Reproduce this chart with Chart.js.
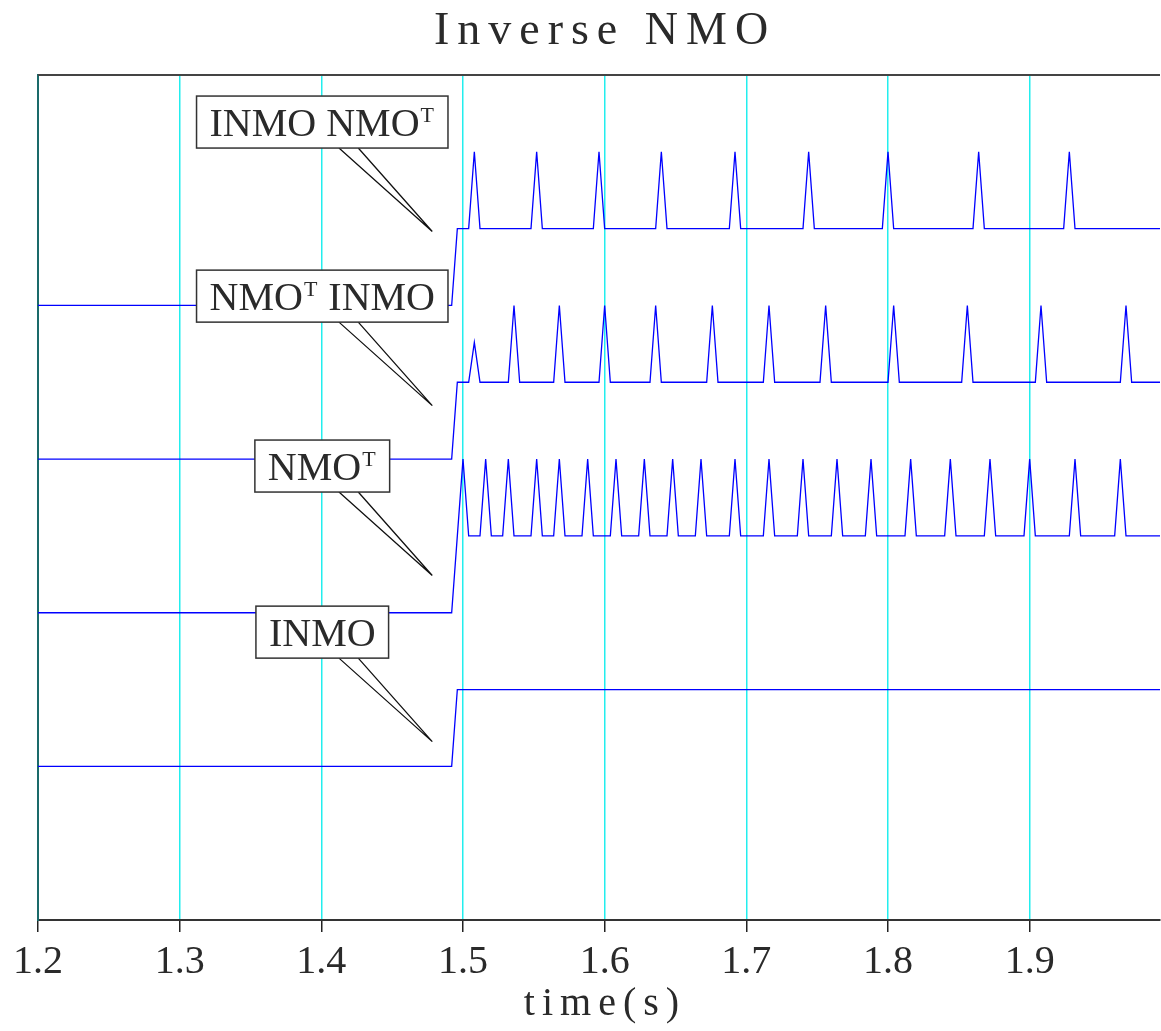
<!DOCTYPE html>
<html>
<head>
<meta charset="utf-8">
<script src="https://cdn.jsdelivr.net/npm/chart.js@4/dist/chart.umd.min.js"></script>
<style>
	html, body { margin: 0; padding: 0; background: #fff; }
	#wrap { width: 1161px; height: 1031px; }
</style>
</head>
<body>
<div id="wrap"><canvas id="graph" width="1161" height="1031"></canvas></div>
<script>
// time axis
const tickTimes = [1.2, 1.3, 1.4, 1.5, 1.6, 1.7, 1.8, 1.9];
const tMin = 1.2;
const tMax = 1.992;
const dt = 0.004;

// each trace is offset vertically by its base level
const traceLabels = ["INMO", "NMO^T", "NMO^T INMO", "INMO NMO^T"];
const traceBase = [1, 2, 3, 4];
const stepFrom = 1.492;
const stepTo = 1.496;
const stepHeight = 0.5;

// spike times (s) and heights above the stepped level
const inmoSpikes = [];
const inmoAmps = [];
const nmotSpikes = [1.5, 1.516, 1.532, 1.552, 1.568, 1.588, 1.608, 1.628, 1.648, 1.668, 1.692,
	1.716, 1.74, 1.764, 1.788, 1.816, 1.844, 1.872, 1.9, 1.932, 1.964];
const nmotAmps = [0.5, 0.5, 0.5, 0.5, 0.5, 0.5, 0.5, 0.5, 0.5, 0.5, 0.5,
	0.5, 0.5, 0.5, 0.5, 0.5, 0.5, 0.5, 0.5, 0.5, 0.5];
const nmotInmoSpikes = [1.508, 1.536, 1.568, 1.6, 1.636, 1.676, 1.716, 1.756, 1.804, 1.856, 1.908, 1.968];
const nmotInmoAmps = [0.26, 0.5, 0.5, 0.5, 0.5, 0.5, 0.5, 0.5, 0.5, 0.5, 0.5, 0.5];
const inmoNmotSpikes = [1.508, 1.552, 1.596, 1.64, 1.692, 1.744, 1.8, 1.864, 1.928];
const inmoNmotAmps = [0.5, 0.5, 0.5, 0.5, 0.5, 0.5, 0.5, 0.5, 0.5];

// callout tips (time, level) for the labels
const calloutTime = [1.4783, 1.4783, 1.4783, 1.4783];
const calloutLevel = [1.161, 2.242, 3.348, 4.481];

const spikeSets = [
	[inmoSpikes, inmoAmps],
	[nmotSpikes, nmotAmps],
	[nmotInmoSpikes, nmotInmoAmps],
	[inmoNmotSpikes, inmoNmotAmps],
];

function buildTrace(base, spikes, amps) {
	const level = base + stepHeight;
	const pts = [
		{ x: tMin, y: base },
		{ x: stepFrom, y: base },
		{ x: stepTo, y: level },
	];
	spikes.forEach((t, i) => {
		pts.push({ x: t - dt, y: level });
		pts.push({ x: t, y: level + amps[i] });
		pts.push({ x: t + dt, y: level });
	});
	pts.push({ x: tMax, y: level });
	return pts;
}

const FONT = "'Liberation Serif', 'DejaVu Serif', serif";
const INK = "#2a2a2a";

const decorPlugin = {
	id: "decor",
	afterDraw(chart) {
		const ctx = chart.ctx;
		const area = chart.chartArea;
		const xs = chart.scales.x;
		const ys = chart.scales.y;
		ctx.save();

		// top frame line
		ctx.strokeStyle = "#444";
		ctx.lineWidth = 2;
		ctx.beginPath();
		ctx.moveTo(area.left, area.top);
		ctx.lineTo(area.right, area.top);
		ctx.stroke();

		// title
		ctx.fillStyle = INK;
		ctx.font = "46px " + FONT;
		ctx.textAlign = "center";
		ctx.textBaseline = "middle";
		ctx.letterSpacing = "8px";
		ctx.fillText("Inverse NMO", 605, 32);

		// axis title
		ctx.font = "40px " + FONT;
		ctx.letterSpacing = "7px";
		ctx.fillText("time(s)", 605, 1004);
		ctx.letterSpacing = "0px";

		// labelled callouts
		traceLabels.forEach((label, i) => {
			const tx = xs.getPixelForValue(calloutTime[i]);
			const ty = ys.getPixelForValue(calloutLevel[i]);
			const parts = label.split("^");
			ctx.font = "40px " + FONT;
			const mainW = ctx.measureText(parts[0]).width;
			let supText = "", restText = "", supW = 0, restW = 0;
			if (parts.length > 1) {
				supText = parts[1].charAt(0);
				restText = parts[1].slice(1);
				ctx.font = "22px " + FONT;
				supW = ctx.measureText(supText).width + 2;
				ctx.font = "40px " + FONT;
				restW = ctx.measureText(restText).width;
			}
			const textW = mainW + supW + restW;
			const boxW = textW + 26;
			const boxH = 52;
			const bottom = ty - 83.5;
			const cx = tx - 110;
			const left = cx - boxW / 2;
			const top = bottom - boxH;

			ctx.strokeStyle = "#111";
			ctx.lineWidth = 1.3;
			ctx.beginPath();
			ctx.moveTo(tx - 93.3, bottom);
			ctx.lineTo(tx, ty);
			ctx.lineTo(tx - 74, bottom);
			ctx.stroke();

			ctx.fillStyle = "#fff";
			ctx.fillRect(left, top, boxW, boxH);
			ctx.strokeStyle = "#333";
			ctx.lineWidth = 1.5;
			ctx.strokeRect(left, top, boxW, boxH);

			ctx.fillStyle = INK;
			ctx.textAlign = "left";
			ctx.textBaseline = "alphabetic";
			const baseY = top + boxH / 2 + 14;
			let x = left + 13;
			ctx.font = "40px " + FONT;
			ctx.fillText(parts[0], x, baseY);
			x += mainW;
			if (supText) {
				ctx.font = "22px " + FONT;
				ctx.fillText(supText, x + 1, baseY - 14);
				x += supW;
				ctx.font = "40px " + FONT;
				ctx.fillText(restText, x, baseY);
			}
		});
		ctx.restore();
	},
};

new Chart(document.getElementById("graph"), {
	type: "line",
	data: {
		datasets: traceBase.map((base, i) => ({
			label: traceLabels[i],
			data: buildTrace(base, spikeSets[i][0], spikeSets[i][1]),
			borderColor: "#0000ff",
			borderWidth: 1.3,
			pointRadius: 0,
			tension: 0,
			fill: false,
		})),
	},
	options: {
		responsive: false,
		animation: false,
		layout: { padding: { top: 75, right: 1, left: 0, bottom: 0 } },
		plugins: {
			legend: { display: false },
			title: { display: false },
			tooltip: { enabled: false },
		},
		scales: {
			x: {
				type: "linear",
				min: tMin,
				max: tMax,
				afterBuildTicks: (scale) => {
					scale.ticks = tickTimes.map((v) => ({ value: v }));
				},
				afterFit: (scale) => {
					scale.height = 111;
				},
				grid: {
					color: (c) => (c.tick && c.tick.value === tMin ? "rgba(0,0,0,0)" : "#22eeee"),
					lineWidth: 1.5,
					tickColor: "#222",
					tickLength: 12,
				},
				border: { color: "#333", width: 2 },
				ticks: {
					color: INK,
					font: { family: FONT, size: 40 },
					padding: 6,
					maxRotation: 0,
					autoSkip: false,
					callback: (v) => v.toFixed(1),
				},
				title: { display: false },
			},
			y: {
				type: "linear",
				min: 0,
				max: 5.5,
				afterFit: (scale) => {
					scale.width = 38;
				},
				grid: { display: false },
				ticks: { display: false },
				border: { color: "#1a6a6a", width: 2 },
			},
		},
	},
	plugins: [decorPlugin],
});
</script>
</body>
</html>
